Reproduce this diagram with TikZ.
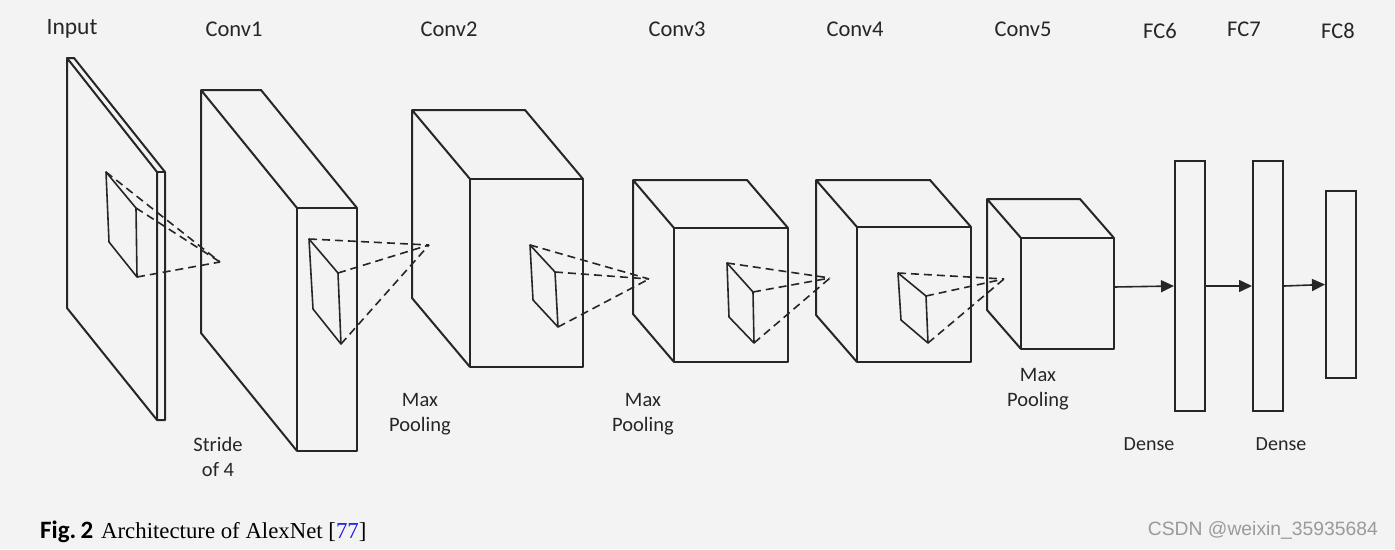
\documentclass[tikz,border=0pt]{standalone}
\usepackage{fontspec}
\setmainfont{Carlito}
\newfontfamily\capserif{Liberation Serif}
\newfontfamily\wmfont{Liberation Sans}
\usetikzlibrary{arrows.meta}
\definecolor{bg}{HTML}{F3F3F3}
\definecolor{ink}{HTML}{262626}
\definecolor{refblue}{HTML}{1A1AE6}
\definecolor{wm}{HTML}{9A9A9A}
\newcommand\drawcube[6]{%
  \draw[edge] (#1,#3) rectangle (#2,#4);
  \draw[edge] ({#1+#5},{#3+#6}) -- (#1,#3)
              (#2,#3) -- ({#2+#5},{#3+#6}) -- ({#1+#5},{#3+#6}) -- ({#1+#5},{#4+#6}) -- (#1,#4);
}
\begin{document}
\begin{tikzpicture}[x=1pt,y=-1pt,
  edge/.style={draw=ink,line width=2pt,line join=round},
  kernel/.style={draw=ink,line width=1.6pt,line join=round},
  ray/.style={draw=ink,line width=1.6pt,dash pattern=on 8pt off 5pt},
  lbl/.style={font=\fontsize{20.5}{25}\selectfont,text=ink,align=center,inner sep=0pt},
  head/.style={font=\fontsize{22.5}{25}\selectfont,text=ink,inner sep=0pt},
  fcbox/.style={draw=ink,line width=2pt,minimum width=30pt,inner sep=0pt},
  flow/.style={draw=ink,line width=1.6pt,-{Triangle[length=13pt,width=12pt]}}]
\fill[bg] (0,0) rectangle (1395,549);
\useasboundingbox (0,0) rectangle (1395,549);

% ---- input slab
\coordinate (iA) at (67,58);  \coordinate (iB) at (157,172);
\coordinate (iC) at (157,420); \coordinate (iD) at (67,308);
\coordinate (iA2) at (74,58); \coordinate (iB2) at (165,172);
\coordinate (iC2) at (165,420);
\draw[edge] (iA) -- (iB) -- (iC) -- (iD) -- cycle;
\draw[edge] (iA) -- (iA2) -- (iB2) -- (iC2) -- (iC);
\draw[edge] (iB) -- (iB2);

% ---- conv blocks
\drawcube{297}{357}{208}{451}{-96}{-118}
\drawcube{470}{583}{179}{367}{-58}{-69}
\drawcube{674}{788}{228}{362}{-41}{-48}
\drawcube{857}{971}{227}{362}{-41}{-47}
\drawcube{1021}{1114}{238}{349}{-34}{-39}

% ---- kernels and receptive-field rays
\coordinate (k0a) at (106,172); \coordinate (k0b) at (136,208);
\coordinate (k0c) at (137,277); \coordinate (k0d) at (109,242);
\coordinate (p0) at (220,262);
\coordinate (k1a) at (309,239); \coordinate (k1b) at (338,273);
\coordinate (k1c) at (341,344); \coordinate (k1d) at (313,309);
\coordinate (p1) at (429,245);
\coordinate (k2a) at (530,245); \coordinate (k2b) at (555,272);
\coordinate (k2c) at (558,327); \coordinate (k2d) at (533,300);
\coordinate (p2) at (649,279);
\coordinate (k3a) at (727,263); \coordinate (k3b) at (753,292);
\coordinate (k3c) at (754,343); \coordinate (k3d) at (729,317);
\coordinate (p3) at (830,278);
\coordinate (k4a) at (898,273); \coordinate (k4b) at (926,296);
\coordinate (k4c) at (928,343); \coordinate (k4d) at (901,320);
\coordinate (p4) at (1004,279);
\foreach \k/\p in {k0/p0,k1/p1,k2/p2,k3/p3,k4/p4}{
  \draw[kernel] (\k a) -- (\k b) -- (\k c) -- (\k d) -- cycle;
  \draw[ray] (\k a) -- (\p);
  \draw[ray] (\k b) -- (\p);
  \draw[ray] (\k c) -- (\p);
}

% ---- fully connected layers
\node[fcbox,minimum height=250pt] (fc6) at (1190,286) {};
\node[fcbox,minimum height=250pt] (fc7) at (1268,286) {};
\node[fcbox,minimum height=187pt] (fc8) at (1341,284.5) {};
\coordinate (c5out) at (1114,287);
\draw[flow] (c5out) -- (fc6.west);
\draw[flow] (fc6.east) -- (fc7.west);
\draw[flow] (fc7.east) -- (fc8.west);

% ---- labels
\node[head,font=\fontsize{23.5}{25}\selectfont] (tin) at (72,29) {Input};
\node[head] (tc1) at (234,29) {Conv1};
\node[head] (tc2) at (449,29) {Conv2};
\node[head] (tc3) at (677,29) {Conv3};
\node[head] (tc4) at (855,29) {Conv4};
\node[head] (tc5) at (1023,29) {Conv5};
\node[head] (tf6) at (1160,31) {FC6};
\node[head] (tf7) at (1244,29) {FC7};
\node[head] (tf8) at (1338,31) {FC8};
\node[lbl] (tstr) at (218,457) {Stride\\of 4};
\node[lbl] (tmp1) at (420,414) {Max\\Pooling};
\node[lbl] (tmp2) at (643,414) {Max\\Pooling};
\node[lbl] (tmp3) at (1038,389) {Max\\Pooling};
\node[lbl,font=\fontsize{20}{25}\selectfont] (td1) at (1149,444) {Dense};
\node[lbl,font=\fontsize{20}{25}\selectfont] (td2) at (1281,444) {Dense};

% ---- caption and watermark
\node[anchor=west,inner sep=0pt,text=black] (cap) at (40,532)
  {{\fontsize{25}{26}\selectfont\bfseries Fig.\,2}\hspace{8pt}{\capserif\fontsize{22.8}{24}\selectfont Architecture of AlexNet [\textcolor{refblue}{77}]}};
\node[anchor=east,inner sep=0pt,text=wm] (wmark) at (1378,530)
  {\wmfont\fontsize{19.3}{22}\selectfont CSDN @weixin\_35935684};
\end{tikzpicture}
\end{document}
